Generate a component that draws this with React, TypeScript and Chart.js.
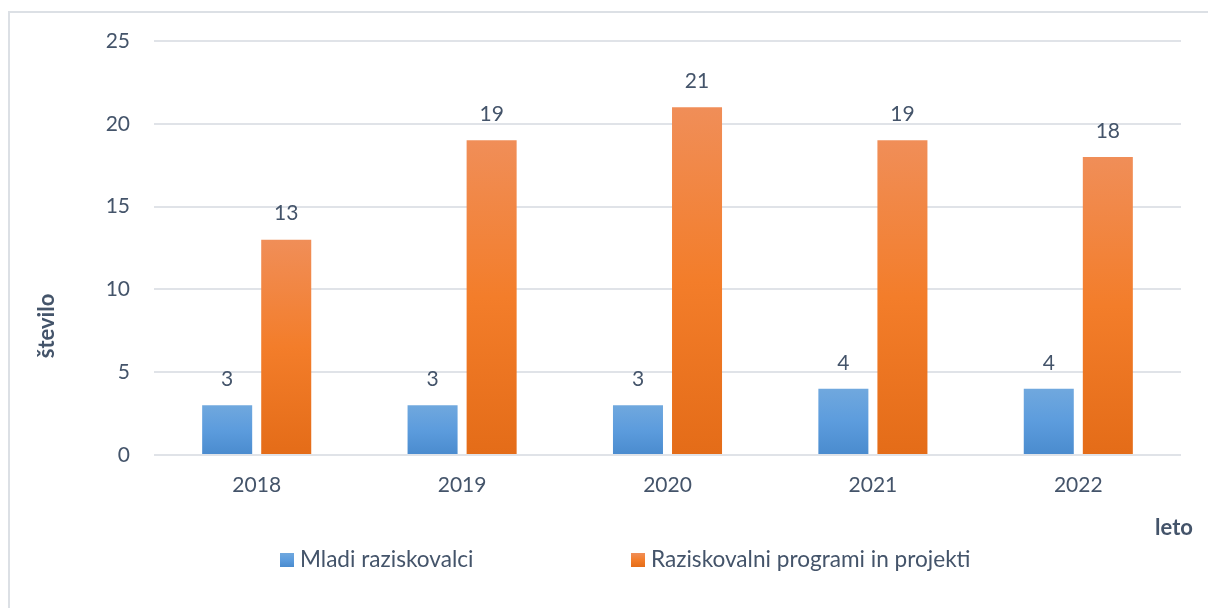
import React, { useEffect, useRef } from "react";
import { Chart, registerables } from "chart.js";

Chart.register(...registerables);

const categories = ["2018", "2019", "2020", "2021", "2022"];
const mladiRaziskovalci = [3, 3, 3, 4, 4];
const programiProjekti = [13, 19, 21, 19, 18];
const seriesLabels = ["Mladi raziskovalci", "Raziskovalni programi in projekti"];
const yTicks = [0, 5, 10, 15, 20, 25];
const xTitle = "leto";
const yTitle = "število";

const TEXT = "#44546A";
const FONT = "Lato, 'Open Sans', sans-serif";
const FS = 21;
const LEGEND_FS = 22.6;
const TITLE_FS = 22;

const blueStops: [number, string][] = [
  [0, "#70A8DE"],
  [0.5, "#5C9CDD"],
  [1, "#4A8BCE"],
];
const orangeStops: [number, string][] = [
  [0, "#F08E58"],
  [0.5, "#F37D2A"],
  [1, "#E46C18"],
];

function grad(c: CanvasRenderingContext2D, top: number, bottom: number, stops: [number, string][]) {
  if (!isFinite(top) || !isFinite(bottom)) return stops[1][1];
  const g = c.createLinearGradient(0, top, 0, Math.max(bottom, top + 1));
  stops.forEach(([o, col]) => g.addColorStop(o, col));
  return g;
}

function barFill(stops: [number, string][]) {
  return (ctx: any) => {
    const chart = ctx.chart;
    const y = chart.scales && chart.scales.y;
    if (!y || ctx.type !== "data") return stops[1][1];
    const top = y.getPixelForValue(ctx.raw as number);
    const bottom = y.getPixelForValue(0);
    return grad(chart.ctx, top, bottom, stops);
  };
}

const decorPlugin = {
  id: "decor",
  afterDatasetsDraw(chart: any) {
    const c: CanvasRenderingContext2D = chart.ctx;
    c.save();
    c.fillStyle = TEXT;
    c.textAlign = "center";
    c.textBaseline = "middle";
    c.font = `${FS}px ${FONT}`;
    chart.data.datasets.forEach((ds: any, di: number) => {
      const meta = chart.getDatasetMeta(di);
      meta.data.forEach((el: any, i: number) => {
        c.fillText(String(ds.data[i]), el.x, el.y - 26);
      });
    });
    // axis titles
    c.font = `bold ${TITLE_FS}px ${FONT}`;
    c.fillText(xTitle, 1174, 528);
    c.save();
    c.translate(47, 326);
    c.rotate(-Math.PI / 2);
    c.fillText(yTitle, 0, 0);
    c.restore();
    // legend
    c.font = `${LEGEND_FS}px ${FONT}`;
    c.textAlign = "left";
    const positions = [280, 631];
    const stopsArr = [blueStops, orangeStops];
    chart.data.datasets.forEach((ds: any, di: number) => {
      const x = positions[di];
      c.fillStyle = grad(c, 553, 567, stopsArr[di]);
      c.fillRect(x, 553, 14, 14);
      c.fillStyle = TEXT;
      c.fillText(ds.label, x + 20, 560);
    });
    c.restore();
  },
};

export default function App() {
  const ref = useRef<HTMLCanvasElement | null>(null);
  useEffect(() => {
    if (!ref.current) return;
    const chart = new Chart(ref.current, {
      type: "bar",
      data: {
        labels: categories,
        datasets: [
          {
            label: seriesLabels[0],
            data: mladiRaziskovalci,
            backgroundColor: barFill(blueStops),
            borderWidth: 0,
            categoryPercentage: 0.575,
            barPercentage: 0.847,
          },
          {
            label: seriesLabels[1],
            data: programiProjekti,
            backgroundColor: barFill(orangeStops),
            borderWidth: 0,
            categoryPercentage: 0.575,
            barPercentage: 0.847,
          },
        ],
      },
      options: {
        responsive: false,
        animation: false,
        devicePixelRatio: 1,
        layout: { padding: { top: 41, right: 27, bottom: 0, left: 0 } },
        plugins: {
          legend: { display: false },
          tooltip: { enabled: false },
          title: { display: false },
        },
        scales: {
          x: {
            grid: { display: false, drawTicks: false },
            border: { display: false },
            ticks: { color: TEXT, font: { family: FONT, size: FS }, padding: 18 },
            afterFit: (s: any) => {
              s.height = 153;
            },
          },
          y: {
            min: 0,
            max: 25,
            afterBuildTicks: (s: any) => {
              s.ticks = yTicks.map((v) => ({ value: v }));
            },
            grid: { color: "#E0E3E8", lineWidth: 2, drawTicks: false },
            border: { display: false },
            ticks: { color: TEXT, font: { family: FONT, size: FS }, padding: 24 },
            afterFit: (s: any) => {
              s.width = 154;
            },
          },
        },
      },
      plugins: [decorPlugin],
    });
    return () => chart.destroy();
  }, []);
  return (
    <div style={{ position: "fixed", left: 0, top: 0, width: 1208, height: 608, overflow: "hidden", background: "#fff" }}>
      <div
        style={{
          position: "absolute",
          left: 8,
          top: 11,
          width: 1400,
          height: 800,
          border: "2px solid #DCE0E5",
        }}
      />
      <canvas ref={ref} width={1208} height={608} style={{ position: "absolute", left: 0, top: 0, width: 1208, height: 608 }} />
    </div>
  );
}
